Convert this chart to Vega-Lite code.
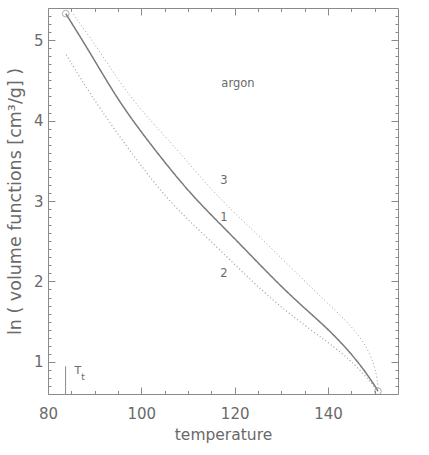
{
  "$schema": "https://vega.github.io/schema/vega-lite/v6.json",
  "width": 350,
  "height": 386,
  "autosize": "none",
  "padding": {"left": 48, "top": 8, "right": 31, "bottom": 61},
  "background": "white",
  "config": {
    "view": {"stroke": "#8a8a8a", "strokeWidth": 1},
    "font": "DejaVu Sans",
    "axis": {
      "domain": false,
      "grid": false,
      "labelColor": "#6a6a6a",
      "titleColor": "#6a6a6a",
      "labelFont": "DejaVu Sans",
      "titleFont": "DejaVu Sans",
      "labelFontSize": 15,
      "titleFontSize": 15.5,
      "titleFontWeight": "normal",
      "labelFlush": false
    }
  },
  "datasets": {
    "curves": [
      {"series": "1", "T": 83.8, "V": 5.33},
      {"series": "1", "T": 89.3, "V": 4.82},
      {"series": "1", "T": 95.3, "V": 4.22},
      {"series": "1", "T": 102.8, "V": 3.64},
      {"series": "1", "T": 111.0, "V": 3.05},
      {"series": "1", "T": 119.3, "V": 2.58},
      {"series": "1", "T": 131.4, "V": 1.84},
      {"series": "1", "T": 140.0, "V": 1.42},
      {"series": "1", "T": 146.4, "V": 1.01},
      {"series": "1", "T": 149.6, "V": 0.74},
      {"series": "1", "T": 150.5, "V": 0.66},
      {"series": "1", "T": 150.7, "V": 0.634},
      {"series": "3", "T": 85.0, "V": 5.36},
      {"series": "3", "T": 91.6, "V": 4.82},
      {"series": "3", "T": 98.0, "V": 4.24},
      {"series": "3", "T": 107.8, "V": 3.64},
      {"series": "3", "T": 115.9, "V": 3.07},
      {"series": "3", "T": 125.0, "V": 2.58},
      {"series": "3", "T": 137.8, "V": 1.84},
      {"series": "3", "T": 145.7, "V": 1.42},
      {"series": "3", "T": 149.3, "V": 1.09},
      {"series": "3", "T": 150.6, "V": 0.80},
      {"series": "3", "T": 150.75, "V": 0.66},
      {"series": "2", "T": 83.9, "V": 4.82},
      {"series": "2", "T": 90.0, "V": 4.23},
      {"series": "2", "T": 104.6, "V": 3.05},
      {"series": "2", "T": 113.6, "V": 2.58},
      {"series": "2", "T": 126.4, "V": 1.84},
      {"series": "2", "T": 135.7, "V": 1.42},
      {"series": "2", "T": 143.6, "V": 1.09},
      {"series": "2", "T": 147.8, "V": 0.84},
      {"series": "2", "T": 149.6, "V": 0.71},
      {"series": "2", "T": 150.7, "V": 0.634}
    ],
    "ends": [
      {"T": 83.8, "V": 5.33},
      {"T": 150.7, "V": 0.634}
    ],
    "labels": [
      {"T": 120.7, "V": 4.46, "text": "argon"},
      {"T": 117.7, "V": 3.25, "text": "3"},
      {"T": 117.7, "V": 2.79, "text": "1"},
      {"T": 117.7, "V": 2.09, "text": "2"}
    ],
    "triple": [
      {"T": 83.77, "V": 0.6, "V2": 0.945}
    ],
    "tlabel": [
      {"T": 86.4, "V": 0.89, "text": "T", "size": 11},
      {"T": 87.5, "V": 0.81, "text": "t", "size": 9}
    ]
  },
  "resolve": {"axis": {"x": "independent", "y": "independent"}},
  "layer": [
    {
      "data": {"name": "curves"},
      "mark": {"type": "line", "interpolate": "basis"},
      "encoding": {
        "x": {
          "field": "T", "type": "quantitative",
          "scale": {"domain": [80, 155], "nice": false, "zero": false},
          "axis": {"orient": "bottom", "labels": false, "title": null, "values": [80, 100, 120, 140], "ticks": true, "tickColor": "#8a8a8a", "tickSize": 7, "offset": -7}
        },
        "y": {
          "field": "V", "type": "quantitative",
          "scale": {"domain": [0.6, 5.4], "nice": false, "zero": false},
          "axis": {"orient": "left", "labels": false, "title": null, "values": [1, 2, 3, 4, 5], "ticks": true, "tickColor": "#8a8a8a", "tickSize": 7, "offset": -7}
        },
        "detail": {"field": "series"},
        "color": {"field": "series", "type": "nominal", "legend": null,
          "scale": {"domain": ["1", "2", "3"], "range": ["#7a7a7a", "#a0a0a0", "#a0a0a0"]}},
        "strokeDash": {"field": "series", "type": "nominal", "legend": null,
          "scale": {"domain": ["1", "2", "3"], "range": [[1, 0], [1, 2.5], [1, 2.5]]}},
        "strokeWidth": {"field": "series", "type": "nominal", "legend": null,
          "scale": {"domain": ["1", "2", "3"], "range": [1.5, 1, 1]}}
      }
    },
    {
      "data": {"name": "ends"},
      "mark": {"type": "point", "shape": "circle", "filled": false, "size": 45, "stroke": "#8a8a8a", "strokeWidth": 1},
      "encoding": {
        "x": {
          "field": "T", "type": "quantitative",
          "axis": {"orient": "top", "labels": false, "title": null, "values": [80, 100, 120, 140], "ticks": true, "tickColor": "#8a8a8a", "tickSize": 7, "offset": -7}
        },
        "y": {
          "field": "V", "type": "quantitative",
          "axis": {"orient": "right", "labels": false, "title": null, "values": [1, 2, 3, 4, 5], "ticks": true, "tickColor": "#8a8a8a", "tickSize": 7, "offset": -7}
        }
      }
    },
    {
      "data": {"name": "labels"},
      "mark": {"type": "text", "fontSize": 11.5, "color": "#6a6a6a", "font": "DejaVu Sans"},
      "encoding": {
        "x": {
          "field": "T", "type": "quantitative",
          "axis": {
            "orient": "bottom", "ticks": false, "labelPadding": 12,
            "values": [80, 100, 120, 140], "title": "temperature", "titlePadding": 6
          }
        },
        "y": {
          "field": "V", "type": "quantitative",
          "axis": {
            "orient": "left", "ticks": false, "labelPadding": 5,
            "values": [1, 2, 3, 4, 5], "title": "ln ( volume functions [cm³/g] )", "titlePadding": 9, "titleFontSize": 17.5
          }
        },
        "text": {"field": "text"}
      }
    },
    {
      "data": {"name": "triple"},
      "mark": {"type": "rule", "color": "#8a8a8a", "strokeWidth": 1},
      "encoding": {
        "x": {
          "field": "T", "type": "quantitative",
          "axis": {"orient": "bottom", "labels": false, "title": null, "ticks": true, "tickColor": "#8a8a8a", "tickSize": 3.5, "offset": -3.5,
            "values": [85, 90, 95, 105, 110, 115, 125, 130, 135, 145, 150]}
        },
        "y": {
          "field": "V", "type": "quantitative",
          "axis": {"orient": "left", "labels": false, "title": null, "ticks": true, "tickColor": "#8a8a8a", "tickSize": 3, "offset": -3,
            "values": [0.7, 0.8, 0.9, 1.1, 1.2, 1.3, 1.4, 1.5, 1.6, 1.7, 1.8, 1.9, 2.1, 2.2, 2.3, 2.4, 2.5, 2.6, 2.7, 2.8, 2.9, 3.1, 3.2, 3.3, 3.4, 3.5, 3.6, 3.7, 3.8, 3.9, 4.1, 4.2, 4.3, 4.4, 4.5, 4.6, 4.7, 4.8, 4.9, 5.1, 5.2, 5.3]}
        },
        "y2": {"field": "V2"}
      }
    },
    {
      "data": {"name": "tlabel"},
      "mark": {"type": "text", "color": "#6a6a6a", "font": "DejaVu Sans"},
      "encoding": {
        "x": {
          "field": "T", "type": "quantitative",
          "axis": {"orient": "top", "labels": false, "title": null, "ticks": true, "tickColor": "#8a8a8a", "tickSize": 3.5, "offset": -3.5,
            "values": [85, 90, 95, 105, 110, 115, 125, 130, 135, 145, 150]}
        },
        "y": {
          "field": "V", "type": "quantitative",
          "axis": {"orient": "right", "labels": false, "title": null, "ticks": true, "tickColor": "#8a8a8a", "tickSize": 3, "offset": -3,
            "values": [0.7, 0.8, 0.9, 1.1, 1.2, 1.3, 1.4, 1.5, 1.6, 1.7, 1.8, 1.9, 2.1, 2.2, 2.3, 2.4, 2.5, 2.6, 2.7, 2.8, 2.9, 3.1, 3.2, 3.3, 3.4, 3.5, 3.6, 3.7, 3.8, 3.9, 4.1, 4.2, 4.3, 4.4, 4.5, 4.6, 4.7, 4.8, 4.9, 5.1, 5.2, 5.3]}
        },
        "text": {"field": "text"},
        "size": {"field": "size", "type": "quantitative", "scale": null, "legend": null}
      }
    }
  ]
}
